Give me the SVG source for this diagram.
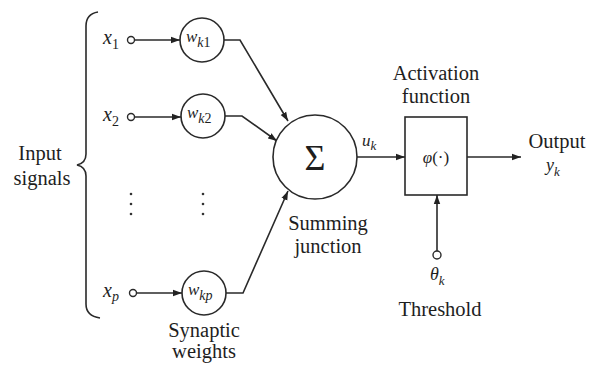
<svg xmlns="http://www.w3.org/2000/svg" width="593" height="367" viewBox="0 0 593 367">
<defs>
<marker id="ah" markerWidth="10" markerHeight="8" refX="9" refY="4" orient="auto" markerUnits="userSpaceOnUse">
<path d="M0,0.8 L9,4 L0,7.2 Z" fill="#222"/>
</marker>
<style>
.ln{fill:none;stroke:#2a2a2a;stroke-width:1.6}
.nd{fill:#fff;stroke:#2a2a2a;stroke-width:1.6}
.pt{fill:#fff;stroke:#2a2a2a;stroke-width:1.4}
.t{font-family:"Liberation Serif","Times New Roman",serif;font-size:20.5px;fill:#1e1e1e}
.i{font-family:"Liberation Serif","Times New Roman",serif;font-style:italic;fill:#1e1e1e}
.dot{fill:#333}
</style>
</defs>
<rect width="593" height="367" fill="#fff"/>

<g id="connectors">
<line class="ln" x1="134.5" y1="40" x2="180" y2="40" marker-end="url(#ah)"/>
<line class="ln" x1="134.5" y1="117" x2="181" y2="117" marker-end="url(#ah)"/>
<line class="ln" x1="136.5" y1="293" x2="182" y2="293" marker-end="url(#ah)"/>
<polyline class="ln" points="224,40 240,40 288,121" marker-end="url(#ah)"/>
<polyline class="ln" points="225,116 242,116 277,141" marker-end="url(#ah)"/>
<polyline class="ln" points="226,293 243,293 288,191" marker-end="url(#ah)"/>
<line class="ln" x1="357" y1="157" x2="405" y2="157" marker-end="url(#ah)"/>
<line class="ln" x1="467" y1="157" x2="521" y2="157" marker-end="url(#ah)"/>
<line class="ln" x1="437" y1="251" x2="437" y2="195" marker-end="url(#ah)"/>
</g>

<g id="brace">
<path class="ln" d="M98,12 Q86,14 86,26 L86,154 Q86,163 77,165 Q86,167 86,176 L86,304 Q86,316 100,318"/>
<text class="t" x="40" y="160" text-anchor="middle">Input</text>
<text class="t" x="42" y="185" text-anchor="middle">signals</text>
</g>

<g id="x1">
<text class="i" x="103" y="44" font-size="20">x<tspan font-size="14" font-style="normal" dy="5">1</tspan></text>
<circle class="pt" cx="131" cy="40" r="3.5"/>
</g>
<g id="x2">
<text class="i" x="103" y="121" font-size="20">x<tspan font-size="14" font-style="normal" dy="5">2</tspan></text>
<circle class="pt" cx="131" cy="117" r="3.5"/>
</g>
<g id="xp">
<text class="i" x="103" y="297" font-size="20">x<tspan font-size="14" dy="4">p</tspan></text>
<circle class="pt" cx="133" cy="293" r="3.5"/>
</g>

<g id="dots">
<circle class="dot" cx="131" cy="194" r="1.3"/>
<circle class="dot" cx="131" cy="204" r="1.3"/>
<circle class="dot" cx="131" cy="214" r="1.3"/>
<circle class="dot" cx="203" cy="194" r="1.3"/>
<circle class="dot" cx="203" cy="204" r="1.3"/>
<circle class="dot" cx="203" cy="214" r="1.3"/>
</g>

<g id="wk1">
<circle class="nd" cx="202" cy="40" r="22"/>
<text class="i" x="186" y="42" font-size="17">w<tspan font-size="14" dy="5">k</tspan><tspan font-size="14" font-style="normal">1</tspan></text>
</g>
<g id="wk2">
<circle class="nd" cx="203" cy="116" r="22"/>
<text class="i" x="187" y="118" font-size="17">w<tspan font-size="14" dy="5">k</tspan><tspan font-size="14" font-style="normal">2</tspan></text>
</g>
<g id="wkp">
<circle class="nd" cx="204" cy="293" r="22"/>
<text class="i" x="188" y="295" font-size="17">w<tspan font-size="14" dy="5">kp</tspan></text>
<text class="t" x="204" y="337" text-anchor="middle">Synaptic</text>
<text class="t" x="204" y="358" text-anchor="middle">weights</text>
</g>

<g id="sum">
<circle class="nd" cx="315" cy="157" r="42"/>
<text class="t" x="315" y="170" style="font-size:36px" text-anchor="middle">Σ</text>
<text class="t" x="328" y="230" text-anchor="middle">Summing</text>
<text class="t" x="328" y="253" text-anchor="middle">junction</text>
</g>

<g id="uk">
<text class="i" x="362" y="146" font-size="17">u<tspan font-size="13" dy="4">k</tspan></text>
</g>

<g id="activation">
<rect class="nd" x="405" y="117" width="62" height="78"/>
<text class="i" x="436" y="163" font-size="17" text-anchor="middle">φ<tspan font-style="normal">(·)</tspan></text>
<text class="t" x="436" y="80" text-anchor="middle">Activation</text>
<text class="t" x="436" y="103" text-anchor="middle">function</text>
</g>

<g id="threshold">
<circle class="pt" cx="437" cy="255" r="4"/>
<text class="i" x="430" y="280" font-size="18">θ<tspan font-size="13" dy="5">k</tspan></text>
<text class="t" x="440" y="316" text-anchor="middle">Threshold</text>
</g>

<g id="output">
<text class="t" x="557" y="148" text-anchor="middle">Output</text>
<text class="i" x="546" y="171" font-size="18">y<tspan font-size="13" dy="5">k</tspan></text>
</g>
</svg>
